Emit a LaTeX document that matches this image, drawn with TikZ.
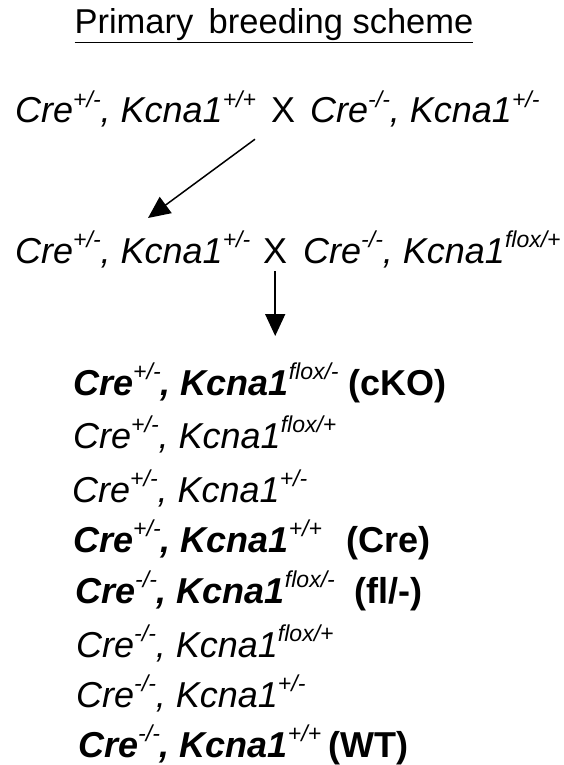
\documentclass[tikz,border=0pt]{standalone}
\usepackage{fontspec}
\setmainfont{Liberation Sans}
\usetikzlibrary{arrows.meta}
\newcommand\supx[1]{\raisebox{16pt}{\fontsize{23}{23}\selectfont\itshape\mdseries #1}}
\newcommand\gen[4]{\itshape #1\supx{#2}, #3\supx{#4}}
\tikzset{
  txt/.style={inner sep=0pt, anchor=base west, font=\fontsize{36}{36}\selectfont},
  btxt/.style={inner sep=0pt, anchor=base west, font=\fontsize{36}{36}\selectfont\bfseries},
  arr/.style={line width=1.5pt, -{Triangle[width=20pt,length=22pt]}}
}
\begin{document}
\begin{tikzpicture}[x=1pt,y=-1pt]
\useasboundingbox[fill=white] (0,0) rectangle (563,765);
\node[inner sep=0pt, anchor=base, font=\fontsize{34.5}{35}\selectfont] (title) at (274,34) {\underline{Primary\ \,breeding scheme}};
% row 1
\node[txt] (r1a) at (15,123) {\gen{Cre}{+/-}{Kcna1}{+/+}};
\node[txt] (r1x) at (271,123) {X};
\node[txt] (r1b) at (310,123) {\gen{Cre}{-/-}{Kcna1}{+/-}};
% row 2
\node[txt] (r2a) at (15,263) {\gen{Cre}{+/-}{Kcna1}{+/-}};
\node[txt] (r2x) at (263,263) {X};
\node[txt] (r2b) at (303,263) {\gen{Cre}{-/-}{Kcna1}{flox/+}};
% arrows
\coordinate (a1s) at ([xshift=-16pt,yshift=-16pt]r1x.south west);
\coordinate (a1e) at (148,218);
\draw[arr] (a1s) -- (a1e);
\coordinate (a2s) at ([yshift=-8pt]r2x.south);
\coordinate (a2e) at ([xshift=0pt]r2x.south |- 0,336);
\draw[arr] (a2s) -- (a2e);
% offspring list
\node[btxt] (o1) at (73,395) {\gen{Cre}{+/-}{Kcna1}{flox/-}};
\node[btxt] (o1l) at (348,395) {(cKO)};
\node[txt] (o2) at (73,448) {\gen{Cre}{+/-}{Kcna1}{flox/+}};
\node[txt] (o3) at (72,502) {\gen{Cre}{+/-}{Kcna1}{+/-}};
\node[btxt] (o4) at (73,552) {\gen{Cre}{+/-}{Kcna1}{+/+}};
\node[btxt] (o4l) at (346,552) {(Cre)};
\node[btxt] (o5) at (75,603) {\gen{Cre}{-/-}{Kcna1}{flox/-}};
\node[btxt] (o5l) at (354,603) {(fl/-)};
\node[txt] (o6) at (76,657) {\gen{Cre}{-/-}{Kcna1}{flox/+}};
\node[txt] (o7) at (76,707) {\gen{Cre}{-/-}{Kcna1}{+/-}};
\node[btxt] (o8) at (78,757) {\gen{Cre}{-/-}{Kcna1}{+/+}};
\node[btxt] (o8l) at (328,757) {(WT)};
\end{tikzpicture}
\end{document}
